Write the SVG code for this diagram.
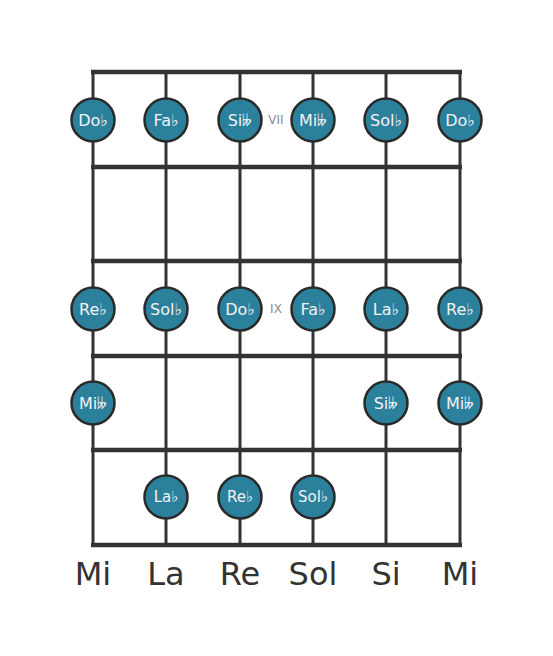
<svg xmlns="http://www.w3.org/2000/svg" width="553" height="656" viewBox="0 0 553 656">
<style>
.str{stroke:#333;stroke-width:3;fill:none}
.fret{stroke:#333;stroke-width:4.5;fill:none}
.dot circle{fill:#2b809c;stroke:#2a2a2a;stroke-width:2.5}
.dot text{fill:#f2f2f2;font-family:"DejaVu Sans",sans-serif;font-size:16px;text-anchor:middle;dominant-baseline:central}
.dot text.sm{font-size:15px}
.pos{fill:#8c8c8c;font-family:"DejaVu Sans",sans-serif;font-size:12px;text-anchor:middle;dominant-baseline:central}
.tun{fill:#333;font-family:"DejaVu Sans",sans-serif;font-size:32px;text-anchor:middle}
</style>
<rect width="553" height="656" fill="#fff"/>
<g id="connectors">
<line class="str" x1="93" y1="72" x2="93" y2="545"/>
<line class="str" x1="166" y1="72" x2="166" y2="545"/>
<line class="str" x1="240" y1="72" x2="240" y2="545"/>
<line class="str" x1="313" y1="72" x2="313" y2="545"/>
<line class="str" x1="386" y1="72" x2="386" y2="545"/>
<line class="str" x1="460" y1="72" x2="460" y2="545"/>
<line class="fret" x1="91" y1="72" x2="462" y2="72"/>
<line class="fret" x1="91" y1="167" x2="462" y2="167"/>
<line class="fret" x1="91" y1="261" x2="462" y2="261"/>
<line class="fret" x1="91" y1="356" x2="462" y2="356"/>
<line class="fret" x1="91" y1="450" x2="462" y2="450"/>
<line class="fret" x1="91" y1="545" x2="462" y2="545"/>
</g>
<text class="pos" x="276" y="120">VII</text>
<text class="pos" x="276" y="309">IX</text>
<g id="n1" class="dot"><circle cx="93" cy="120" r="21.5"/><text x="93" y="120">Do♭</text></g>
<g id="n2" class="dot"><circle cx="166" cy="120" r="21.5"/><text x="166" y="120">Fa♭</text></g>
<g id="n3" class="dot"><circle cx="240" cy="120" r="21.5"/><text x="240" y="120">Si𝄫</text></g>
<g id="n4" class="dot"><circle cx="313" cy="120" r="21.5"/><text x="313" y="120">Mi𝄫</text></g>
<g id="n5" class="dot"><circle cx="386" cy="120" r="21.5"/><text x="386" y="120">Sol♭</text></g>
<g id="n6" class="dot"><circle cx="460" cy="120" r="21.5"/><text x="460" y="120">Do♭</text></g>
<g id="n7" class="dot"><circle cx="93" cy="309" r="21.5"/><text x="93" y="309">Re♭</text></g>
<g id="n8" class="dot"><circle cx="166" cy="309" r="21.5"/><text x="166" y="309">Sol♭</text></g>
<g id="n9" class="dot"><circle cx="240" cy="309" r="21.5"/><text x="240" y="309">Do♭</text></g>
<g id="n10" class="dot"><circle cx="313" cy="309" r="21.5"/><text x="313" y="309">Fa♭</text></g>
<g id="n11" class="dot"><circle cx="386" cy="309" r="21.5"/><text x="386" y="309">La♭</text></g>
<g id="n12" class="dot"><circle cx="460" cy="309" r="21.5"/><text x="460" y="309">Re♭</text></g>
<g id="n13" class="dot"><circle cx="93" cy="403" r="21.5"/><text x="93" y="403">Mi𝄫</text></g>
<g id="n14" class="dot"><circle cx="386" cy="403" r="21.5"/><text x="386" y="403">Si𝄫</text></g>
<g id="n15" class="dot"><circle cx="460" cy="403" r="21.5"/><text x="460" y="403">Mi𝄫</text></g>
<g id="n16" class="dot"><circle cx="166" cy="497" r="21.5"/><text class="sm" x="166" y="497">La♭</text></g>
<g id="n17" class="dot"><circle cx="240" cy="497" r="21.5"/><text class="sm" x="240" y="497">Re♭</text></g>
<g id="n18" class="dot"><circle cx="313" cy="497" r="21.5"/><text class="sm" x="313" y="497">Sol♭</text></g>
<g id="tuning">
<text class="tun" x="93" y="585">Mi</text>
<text class="tun" x="166" y="585">La</text>
<text class="tun" x="240" y="585">Re</text>
<text class="tun" x="313" y="585">Sol</text>
<text class="tun" x="386" y="585">Si</text>
<text class="tun" x="460" y="585">Mi</text>
</g>
</svg>
